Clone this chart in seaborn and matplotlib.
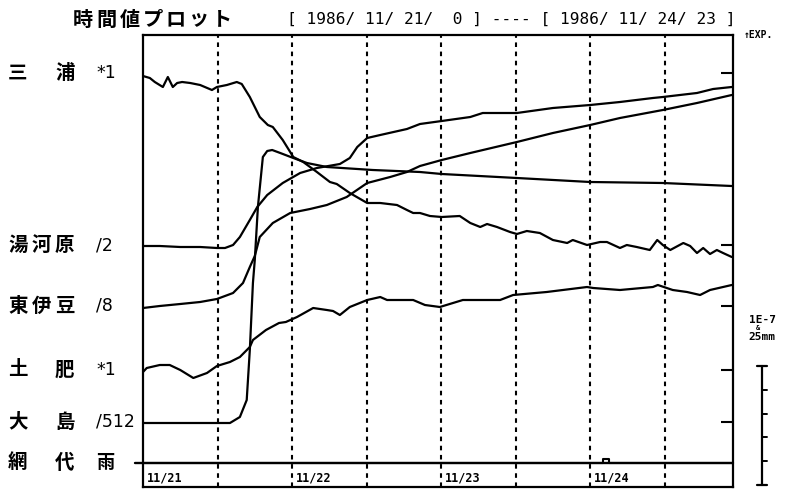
import matplotlib
matplotlib.use("Agg")
import matplotlib.pyplot as plt
import pandas as pd
import seaborn as sns
from matplotlib.lines import Line2D

# ---------------- data (hours from 1986/11/21 00h, chart units) ----------------
miura_t = [0, 1.1, 1.9, 3.2, 4.0, 4.8, 5.5, 6.3, 7.6, 9.2, 11.1, 11.9, 13.5, 15.1, 15.9, 17.2,
           18.8, 20.1, 20.9, 22.5, 24.2, 25.8, 28.0, 30.1, 31.2, 33.3, 36.1, 38.2, 40.9, 42.5,
           43.5, 44.6, 46.2, 48.1, 51.0, 52.7, 54.3, 55.4, 57.0, 59.1, 60.2, 61.8, 63.9, 66.0,
           68.3, 69.2, 71.5, 73.6, 74.7, 76.8, 77.9, 79.5, 81.6, 82.8, 83.7, 84.9, 87.0, 88.1,
           89.2, 90.2, 91.3, 92.4, 93.4, 94.8]
miura_v = [387, 385, 381, 376, 386, 376, 380, 381, 380, 378, 373, 376, 378, 381, 379, 366,
           346, 338, 336, 323, 306, 301, 291, 281, 279, 270, 260, 260, 258, 253,
           250, 250, 247, 246, 247, 240, 236, 239, 236, 231, 229, 232, 230, 223,
           220, 223, 218, 221, 221, 215, 218, 216, 213, 223, 218, 213, 220, 217,
           210, 215, 209, 213, 210, 206]

yugawara_t = [0, 2.7, 6.0, 9.2, 11.9, 13.2, 14.5, 15.6, 17.2, 18.4, 20.0, 22.5, 25.3, 28.0,
              31.7, 33.3, 34.5, 36.1, 38.2, 42.5, 44.6, 48.1, 52.7, 54.7, 60.2, 66.0, 72.0,
              76.8, 82.1, 83.7, 89.2, 91.8, 94.8]
yugawara_v = [217, 217, 216, 216, 215, 215, 218, 226, 243, 256, 268, 280, 290, 295,
              299, 305, 316, 325, 328, 334, 339, 342, 346, 350, 350, 355, 358,
              361, 365, 366, 370, 374, 376]

higashiizu_t = [0, 2.7, 6.0, 9.2, 11.9, 14.5, 16.1, 17.2, 18.0, 18.8, 20.9, 23.7, 26.9, 29.6,
                32.8, 36.1, 39.8, 42.5, 44.6, 48.1, 52.7, 60.2, 66.0, 72.0, 76.8, 83.7, 89.2, 94.8]
higashiizu_v = [155, 157, 159, 161, 164, 170, 180, 196, 207, 226, 240, 250, 254, 258,
                266, 280, 286, 291, 297, 303, 310, 321, 330, 338, 345, 353, 360, 368]

toi_t = [0, 0.6, 2.7, 4.3, 6.0, 8.1, 10.3, 11.9, 14.0, 15.6, 17.2, 17.7, 19.8, 21.9, 23.0,
         24.8, 27.4, 29.6, 30.6, 31.7, 33.3, 36.1, 38.2, 39.3, 41.9, 43.5, 45.4, 47.8, 51.5,
         57.5, 59.6, 65.0, 71.5, 72.5, 76.8, 82.1, 82.9, 85.3, 87.6, 89.7, 91.3, 94.8]
toi_v = [91, 95, 98, 98, 93, 85, 90, 97, 101, 106, 116, 123, 133, 140, 141,
         146, 155, 153, 152, 148, 156, 163, 166, 163, 163, 163, 158, 156, 163,
         163, 168, 171, 176, 175, 173, 176, 178, 173, 171, 168, 173, 178]

oshima_t = [0, 6.0, 11.9, 14.0, 15.6, 16.7, 17.2, 17.7, 18.0, 18.5, 19.3, 20.0, 20.8, 22.1,
            24.2, 26.4, 29.6, 37.0, 44.6, 48.1, 60.2, 72.0, 83.7, 94.8]
oshima_v = [40, 40, 40, 40, 46, 63, 113, 180, 203, 256, 306, 312, 313, 310,
            305, 300, 296, 293, 291, 289, 285, 281, 280, 277]

rain_t = [0, 74, 75, 95]        # 網代 rainfall (mm)
rain_mm = [0, 1, 0, 0]

station_names = ["三浦", "湯河原", "東伊豆", "土肥", "大島", "網代"]
station_scale = ["*1", "/2", "/8", "*1", "/512", "雨"]
station_base = [390, 218, 157, 93, 41, 0]      # baseline of each trace (chart units)

date_labels = ["11/21", "11/22", "11/23", "11/24"]
date_hours = [0, 24, 48, 72]
grid_hours = [12, 24, 36, 48, 60, 72, 84]

title_text = "時間値プロット"
period_text = "[ 1986/ 11/ 21/  0 ] ---- [ 1986/ 11/ 24/ 23 ]"

# ---------------- drawing ----------------
sns.set_style("white")
plt.rcParams['font.family'] = ['Noto Sans CJK JP', 'DejaVu Sans']

W, H = 787, 491
fig = plt.figure(figsize=(W / 100, H / 100), dpi=100)
fig.patch.set_facecolor("white")


def fx(x):
    return x / W


def fy(y):
    return 1 - y / H


ax = fig.add_axes([fx(143), fy(487), fx(733) - fx(143), fy(35) - fy(487)])

frames = []
for name, t, v in [("三浦", miura_t, miura_v), ("湯河原", yugawara_t, yugawara_v),
                   ("東伊豆", higashiizu_t, higashiizu_v), ("土肥", toi_t, toi_v),
                   ("大島", oshima_t, oshima_v)]:
    frames.append(pd.DataFrame({"hour": t, "value": v, "station": name}))
df = pd.concat(frames, ignore_index=True)

sns.lineplot(data=df, x="hour", y="value", hue="station",
             palette={n: "black" for n in df["station"].unique()},
             estimator=None, sort=False, legend=False, lw=1.6, ax=ax)

rain_df = pd.DataFrame({"hour": rain_t, "value": [r * 4 for r in rain_mm]})
sns.lineplot(data=rain_df, x="hour", y="value", drawstyle="steps-post",
             color="black", lw=1.5, estimator=None, ax=ax)

ax.axhline(0, xmin=-0.014, xmax=1, clip_on=False, color="black", lw=1.7)
for h in grid_hours:
    ax.axvline(h, color="black", lw=1.5, linestyle=(0, (2.2, 2.2)))

ax.set_xlim(0, 95)
ax.set_ylim(-24, 428)
ax.set_xlabel("")
ax.set_ylabel("")
ax.set_xticks([])
ax.yaxis.tick_right()
ax.set_yticks(station_base[:-1])
ax.tick_params(axis="y", direction="in", length=9, width=1.5, color="black",
               labelright=False, labelleft=False, right=True, left=False)
for s in ax.spines.values():
    s.set_color("black")
    s.set_linewidth(1.6)

for lab, h in zip(date_labels, date_hours):
    ax.text(h + 0.6, -15, lab, fontsize=8.5, fontweight="bold",
            family="DejaVu Sans Mono", va="center", ha="left", color="black")

# title
for i, ch in enumerate(title_text):
    fig.text(fx(73 + 23.2 * i), fy(19), ch, fontsize=14.5, fontweight="bold",
             va="center", ha="left", color="black")
fig.text(fx(287), fy(19), period_text, fontsize=11.6, family="DejaVu Sans Mono",
         va="center", ha="left", color="black")

# station labels on the left
label_y = [73, 245, 306, 370, 422, 463]
for name, sc, yp in zip(station_names, station_scale, label_y):
    slots = [0, 1, 2] if len(name) == 3 else [0, 2]
    for ch, s in zip(name, slots):
        fig.text(fx(8 + 23.5 * s), fy(yp), ch, fontsize=14, fontweight="bold",
                 va="center", ha="left", color="black")
    fam = ['Noto Sans CJK JP', 'DejaVu Sans'] if sc == "雨" else ['DejaVu Sans']
    fig.text(fx(96), fy(yp), sc, fontsize=13 if sc == "雨" else 12.5,
             fontweight="bold" if sc == "雨" else "normal",
             family=fam, va="center", ha="left", color="black")

# right-hand annotations
fig.text(fx(744), fy(35), "↑EXP.", fontsize=7, fontweight="bold",
         family="DejaVu Sans Mono", va="center", ha="left", color="black")
fig.text(fx(749), fy(320), "1E-7", fontsize=8, fontweight="bold",
         family="DejaVu Sans Mono", va="center", ha="left", color="black")
fig.text(fx(756), fy(328), "&", fontsize=5, fontweight="bold",
         family="DejaVu Sans Mono", va="center", ha="left", color="black")
fig.text(fx(748), fy(337), "25mm", fontsize=8, fontweight="bold",
         family="DejaVu Sans Mono", va="center", ha="left", color="black")

# scale bar
bar_x, bar_top, bar_bot = 762, 366, 485
fig.add_artist(Line2D([fx(bar_x)] * 2, [fy(bar_top), fy(bar_bot)], color="black", lw=1.6))
for yy in (bar_top, bar_bot):
    fig.add_artist(Line2D([fx(bar_x - 5), fx(bar_x + 5)], [fy(yy)] * 2, color="black", lw=1.6))
for k in range(1, 5):
    yy = bar_top + (bar_bot - bar_top) * k / 5
    fig.add_artist(Line2D([fx(bar_x), fx(bar_x + 5)], [fy(yy)] * 2, color="black", lw=1.4))

fig.savefig("out.png", dpi=100, facecolor="white")
